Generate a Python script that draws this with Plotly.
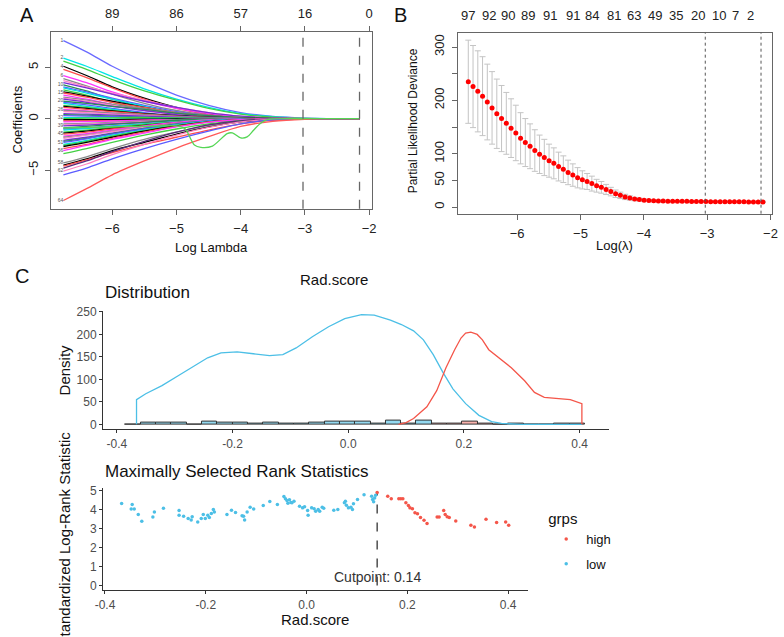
import plotly.graph_objects as go

FONT = "Liberation Sans, Arial, sans-serif"

# ---------------- Panel A : LASSO coefficient paths ----------------
coef_lambda = [-6.76, -6.4, -6.0, -5.5, -5.0, -4.5, -4.0, -3.5, -3.0, -2.5, -2.15]
coef_paths = [
    [7.6, 6.5, 5.1, 3.6, 2.3, 1.3, 0.6, 0.22, 0.06, 0, 0],
    [5.9, 5.1, 4.1, 2.9, 1.9, 1.1, 0.5, 0.2, 0.05, 0, 0],
    [5.6, 4.8, 3.8, 2.7, 1.8, 1.0, 0.45, 0.15, 0.04, 0, 0],
    [5.1, 4.2, 3.1, 2.0, 1.1, 0.45, 0.12, 0.02, 0, 0, 0],
    [4.8, 4.0, 3.0, 1.9, 1.0, 0.4, 0.1, 0, 0, 0, 0],
    [4.2, 3.5, 2.6, 1.7, 1.0, 0.5, 0.2, 0.05, 0, 0, 0],
    [3.9, 3.2, 2.4, 1.5, 0.8, 0.35, 0.1, 0, 0, 0, 0],
    [3.7, 3.1, 2.5, 1.8, 1.1, 0.6, 0.25, 0.08, 0.02, 0, 0],
    [3.5, 3.0, 2.4, 1.7, 1.1, 0.6, 0.25, 0.08, 0, 0, 0],
    [3.3, 2.7, 1.9, 1.1, 0.5, 0.15, 0, 0, 0, 0, 0],
    [3.1, 2.6, 2.0, 1.3, 0.7, 0.3, 0.08, 0, 0, 0, 0],
    [3.0, 2.5, 1.9, 1.2, 0.6, 0.2, 0.05, 0, 0, 0, 0],
    [2.8, 2.3, 1.6, 0.9, 0.4, 0.1, 0, 0, 0, 0, 0],
    [2.6, 2.2, 1.7, 1.1, 0.55, 0.2, 0.04, 0, 0, 0, 0],
    [2.5, 2.1, 1.6, 1.1, 0.6, 0.3, 0.1, 0.02, 0, 0, 0],
    [2.3, 1.9, 1.4, 0.9, 0.45, 0.15, 0.03, 0, 0, 0, 0],
    [2.1, 1.8, 1.4, 1.0, 0.6, 0.3, 0.12, 0.03, 0, 0, 0],
    [2.0, 1.7, 1.3, 0.8, 0.4, 0.12, 0, 0, 0, 0, 0],
    [1.9, 1.6, 1.2, 0.8, 0.4, 0.15, 0.03, 0, 0, 0, 0],
    [1.7, 1.5, 1.2, 0.9, 0.55, 0.3, 0.12, 0.04, 0, 0, 0],
    [1.6, 1.35, 1.0, 0.6, 0.3, 0.1, 0, 0, 0, 0, 0],
    [1.5, 1.2, 0.9, 0.5, 0.2, 0.05, 0, 0, 0, 0, 0],
    [1.3, 1.1, 0.8, 0.5, 0.25, 0.08, 0, 0, 0, 0, 0],
    [1.2, 1.0, 0.75, 0.5, 0.3, 0.15, 0.05, 0, 0, 0, 0],
    [1.1, 0.9, 0.7, 0.45, 0.25, 0.1, 0.03, 0, 0, 0, 0],
    [0.9, 0.75, 0.55, 0.35, 0.15, 0.04, 0, 0, 0, 0, 0],
    [0.8, 0.7, 0.55, 0.4, 0.25, 0.12, 0.04, 0, 0, 0, 0],
    [0.7, 0.6, 0.45, 0.3, 0.15, 0.05, 0, 0, 0, 0, 0],
    [0.5, 0.45, 0.35, 0.25, 0.15, 0.08, 0.03, 0, 0, 0, 0],
    [0.4, 0.35, 0.25, 0.15, 0.06, 0, 0, 0, 0, 0, 0],
    [0.3, 0.25, 0.2, 0.12, 0.05, 0, 0, 0, 0, 0, 0],
    [0.1, 0.1, 0.08, 0.05, 0.02, 0, 0, 0, 0, 0, 0],
    [0.0, 0.05, 0.08, 0.1, 0.08, 0.05, 0.02, 0, 0, 0, 0],
    [-0.1, -0.1, -0.08, -0.05, -0.02, 0, 0, 0, 0, 0, 0],
    [-0.2, -0.2, -0.18, -0.14, -0.1, -0.06, -0.02, 0, 0, 0, 0],
    [-0.3, -0.28, -0.22, -0.15, -0.08, -0.03, 0, 0, 0, 0, 0],
    [-0.5, -0.45, -0.35, -0.22, -0.1, -0.03, 0, 0, 0, 0, 0],
    [-0.6, -0.52, -0.42, -0.3, -0.18, -0.08, -0.02, 0, 0, 0, 0],
    [-0.7, -0.62, -0.5, -0.35, -0.2, -0.1, -0.04, -0.01, 0, 0, 0],
    [-0.9, -0.75, -0.55, -0.35, -0.15, -0.04, 0, 0, 0, 0, 0],
    [-1.0, -0.88, -0.7, -0.5, -0.3, -0.14, -0.05, 0, 0, 0, 0],
    [-1.1, -0.95, -0.75, -0.5, -0.3, -0.12, -0.03, 0, 0, 0, 0],
    [-1.3, -1.1, -0.85, -0.55, -0.3, -0.12, -0.03, 0, 0, 0, 0],
    [-1.4, -1.2, -0.95, -0.65, -0.38, -0.18, -0.06, -0.01, 0, 0, 0],
    [-1.5, -1.3, -1.0, -0.7, -0.4, -0.18, -0.05, 0, 0, 0, 0],
    [-1.7, -1.45, -1.1, -0.7, -0.35, -0.12, 0, 0, 0, 0, 0],
    [-1.8, -1.55, -1.2, -0.8, -0.45, -0.2, -0.06, 0, 0, 0, 0],
    [-1.9, -1.6, -1.25, -0.85, -0.5, -0.22, -0.07, 0, 0, 0, 0],
    [-2.1, -1.8, -1.4, -0.95, -0.55, -0.25, -0.08, -0.02, 0, 0, 0],
    [-2.2, -1.9, -1.45, -0.95, -0.5, -0.2, -0.05, 0, 0, 0, 0],
    [-2.3, -1.95, -1.5, -1.0, -0.55, -0.22, -0.05, 0, 0, 0, 0],
    [-2.5, -2.1, -1.6, -1.1, -0.6, -0.25, -0.07, 0, 0, 0, 0],
    [-2.6, -2.2, -1.7, -1.15, -0.65, -0.3, -0.1, -0.02, 0, 0, 0],
    [-2.7, -2.3, -1.8, -1.2, -0.7, -0.3, -0.1, -0.02, 0, 0, 0],
    [-2.9, -2.5, -1.9, -1.3, -0.75, -0.3, -0.08, 0, 0, 0, 0],
    [-3.1, -2.6, -2.0, -1.4, -0.8, -0.35, -0.1, 0, 0, 0, 0],
    [-3.4, -2.9, -2.3, -1.6, -1.0, -0.5, -0.18, -0.04, 0, 0, 0],
    [-4.3, -3.7, -2.9, -2.0, -1.3, -0.65, -0.25, -0.06, 0, 0, 0],
    [-4.5, -3.9, -3.1, -2.3, -1.5, -0.8, -0.3, -0.08, 0, 0, 0],
    [-4.6, -4.0, -3.3, -2.5, -1.8, -1.1, -0.5, -0.15, -0.03, 0, 0],
    [-4.8, -4.1, -3.2, -2.2, -1.3, -0.6, -0.2, -0.03, 0, 0, 0],
    [-5.1, -4.4, -3.5, -2.5, -1.6, -0.85, -0.3, -0.06, 0, 0, 0],
    [-5.45, -4.8, -3.9, -2.9, -2.0, -1.2, -0.5, -0.12, -0.02, 0, 0],
    [-7.95, -6.8, -5.45, -4.1, -2.85, -1.75, -0.75, -0.25, -0.05, 0, 0],
]
wiggle_lambda = [-6.76, -6.0, -5.5, -5.0, -4.87, -4.72, -4.62, -4.44, -4.21, -4.13,
                 -4.0, -3.9, -3.8, -3.7, -3.6, -3.0, -2.15]
wiggle_coef = [-0.9, -0.8, -0.75, -0.7, -0.96, -2.56, -2.79, -2.66, -1.44, -1.38,
               -1.86, -1.76, -1.12, -0.48, -0.1, 0, 0]
coef_ticks = [-6, -5, -4, -3, -2]
coef_top_df = ["89", "86", "57", "16", "0"]
coef_yticks = [-5, 0, 5]

# ---------------- Panel B : cross-validation ----------------
cv_lambda = [-6.77, -6.695, -6.62, -6.545, -6.47, -6.395, -6.32, -6.245, -6.17, -6.095,
             -6.02, -5.945, -5.87, -5.795, -5.72, -5.645, -5.57, -5.495, -5.42, -5.345,
             -5.27, -5.195, -5.12, -5.045, -4.97, -4.895, -4.82, -4.745, -4.67, -4.595,
             -4.52, -4.445, -4.37, -4.295, -4.22, -4.145, -4.07, -3.995, -3.92, -3.845,
             -3.77, -3.695, -3.62, -3.545, -3.47, -3.395, -3.32, -3.245, -3.17, -3.095,
             -3.02, -2.945, -2.87, -2.795, -2.72, -2.645, -2.57, -2.495, -2.42, -2.345,
             -2.27, -2.195, -2.12]
cv_deviance = [235, 226, 217, 208, 197, 186, 175, 166, 157, 148,
               139, 129, 121, 114, 106, 99, 93, 87, 82, 76,
               71, 65, 60, 55, 51, 48, 44, 40, 37, 33,
               29, 25, 22, 19, 17, 15, 14, 13, 12.5, 12,
               11.5, 11.3, 11.1, 11, 10.9, 10.8, 10.7, 10.6, 10.5, 10.4,
               10.3, 10.2, 10.1, 10, 10, 9.9, 9.9, 9.8, 9.8, 9.7,
               9.7, 9.7, 9.7]
cv_sd = [78, 77, 76, 74, 71, 68, 65, 62, 58, 55,
         52, 48, 45, 42, 39, 36, 34, 31, 29, 27,
         25, 23, 21, 19, 17, 15, 14, 12, 11, 9.5,
         8, 7, 6, 5, 4, 3.2, 2.6, 2.2, 2, 1.8,
         1.6, 1.5, 1.5, 1.4, 1.4, 1.3, 1.3, 1.3, 1.2, 1.2,
         1.2, 1.2, 1.1, 1.1, 1.1, 1.1, 1.1, 1.1, 1.1, 1.1,
         1.1, 1.1, 1.1]
cv_top_pos = [-6.78, -6.45, -6.14, -5.82, -5.48, -5.12, -4.81, -4.47, -4.15, -3.83,
              -3.49, -3.14, -2.82, -2.56, -2.31]
cv_top_df = ["97", "92", "90", "89", "91", "91", "84", "81", "63", "49",
             "35", "20", "10", "7", "2"]
cv_ticks = [-6, -5, -4, -3, -2]
cv_yticks = [0, 50, 100, 150, 200, 250, 300]
cv_yticktext = ["0", "50", "100", "", "200", "", "300"]
lambda_marks = [-3.03, -2.15]

# ---------------- Panel C : cutpoint ----------------
hist_left = -0.3855
hist_width = 0.0265
hist_height = [0.5, 3, 3, 3, 0, 7, 4.5, 4.5, 2, 4.5,
               2, 2, 4.5, 6.5, 6.5, 6.5, 2, 8, 2, 8,
               2, 2, 6.5, 2, 0, 2, 0, 0, 2, 2]
low_dens_x = [-0.366, -0.366, -0.350, -0.322, -0.294, -0.266, -0.243, -0.220, -0.192, -0.164,
              -0.136, -0.113, -0.090, -0.062, -0.034, -0.006, 0.023, 0.045, 0.073, 0.092,
              0.113, 0.130, 0.147, 0.164, 0.181, 0.203, 0.226, 0.248, 0.265, 0.300, 0.404]
low_dens_y = [0, 55, 68, 86, 108, 130, 148, 159, 161, 157,
              153, 155, 170, 195, 217, 235, 244, 243, 232, 222,
              208, 188, 155, 115, 79, 46, 20, 6, 2, 0, 0]
high_dens_x = [0.087, 0.100, 0.113, 0.136, 0.153, 0.169, 0.184, 0.195, 0.203, 0.212,
               0.223, 0.232, 0.243, 0.260, 0.282, 0.305, 0.322, 0.339, 0.362, 0.384,
               0.404, 0.404]
high_dens_y = [0, 4, 13, 39, 75, 126, 166, 192, 203, 205,
               200, 188, 166, 148, 126, 97, 71, 60, 57, 55,
               46, 0]
low_x = [-0.367, -0.346, -0.348, -0.342, -0.334, -0.327, -0.305, -0.302, -0.284, -0.253,
         -0.253, -0.244, -0.235, -0.229, -0.227, -0.216, -0.209, -0.205, -0.201, -0.196,
         -0.193, -0.189, -0.185, -0.183, -0.158, -0.149, -0.141, -0.128, -0.125, -0.123,
         -0.118, -0.112, -0.105, -0.086, -0.073, -0.058, -0.045, -0.042, -0.039, -0.034,
         -0.037, -0.031, -0.029, -0.025, -0.014, -0.008, -0.004, 0.002, 0.003, 0.010,
         0.015, 0.018, 0.023, 0.026, 0.031, 0.034, 0.054, 0.062, 0.075, 0.077,
         0.079, 0.083, 0.088, 0.091, 0.093, 0.101, 0.114, 0.129, 0.131, 0.133,
         0.135, 0.137]
low_y = [4.32, 4.27, 4.03, 4.03, 3.75, 3.39, 3.61, 3.87, 4.08, 3.96,
         3.70, 3.65, 3.53, 3.45, 3.63, 3.35, 3.54, 3.75, 3.53, 3.71,
         3.58, 3.80, 4.01, 3.87, 3.75, 3.97, 3.85, 3.68, 3.65, 3.45,
         3.87, 4.13, 4.04, 4.22, 4.43, 4.27, 4.69, 4.58, 4.48, 4.52,
         4.34, 4.38, 4.36, 4.44, 4.18, 4.10, 4.15, 3.96, 3.71, 4.10,
         4.05, 3.92, 4.01, 3.91, 4.13, 4.08, 3.97, 4.01, 4.36, 4.44,
         4.23, 4.10, 4.13, 4.01, 4.31, 4.53, 4.79, 4.70, 4.53, 4.41,
         4.62, 4.76]
high_x = [0.140, 0.161, 0.168, 0.183, 0.187, 0.191, 0.197, 0.202, 0.205, 0.210,
          0.215, 0.220, 0.226, 0.233, 0.239, 0.259, 0.263, 0.272, 0.275, 0.279,
          0.283, 0.296, 0.326, 0.333, 0.356, 0.377, 0.395, 0.401]
high_y = [4.91, 4.70, 4.58, 4.58, 4.58, 4.58, 4.36, 4.22, 4.10, 4.05,
          3.84, 3.79, 3.58, 3.44, 3.27, 3.61, 3.61, 3.96, 3.75, 3.63,
          3.58, 3.40, 3.18, 3.09, 3.49, 3.32, 3.35, 3.18]
cutpoint = 0.14
rad_ticks = [-0.4, -0.2, 0.0, 0.2, 0.4]
rad_ticktext = ["-0.4", "-0.2", "0.0", "0.2", "0.4"]

# colours
palette = ["#5b5bff", "#00e0e0", "#3ccf3c", "#000000", "#ff4d4d", "#ff33ff",
           "#8a8a8a", "#ff85c8", "#7a2bd6", "#2e8b57"]
coef_colors = [palette[i % len(palette)] for i in range(len(coef_paths))]
# the outermost paths, as coloured in the reference
coef_colors[0] = "#6a6aff"
coef_colors[1] = "#00e5e5"
coef_colors[2] = "#44d044"
coef_colors[-8] = "#44d044"
coef_colors[-7] = "#8a8a8a"
coef_colors[-6] = "#000000"
coef_colors[-5] = "#ff4d4d"
coef_colors[-4] = "#5a2a7a"
coef_colors[-3] = "#ff80c0"
coef_colors[-2] = "#5b5bff"
coef_colors[-1] = "#ff5a5a"
LOW = "#4cbfe6"
HIGH = "#f4564a"

fig = go.Figure()

# panel A
for path, col in zip(coef_paths, coef_colors):
    fig.add_trace(go.Scatter(
        x=coef_lambda, y=path, mode="lines", xaxis="x", yaxis="y",
        line=dict(color=col, width=1.3, shape="spline", smoothing=0.8),
        showlegend=False, hoverinfo="skip"))
fig.add_trace(go.Scatter(
    x=wiggle_lambda, y=wiggle_coef, mode="lines", xaxis="x", yaxis="y",
    line=dict(color="#55d655", width=1.3, shape="spline", smoothing=0.8),
    showlegend=False, hoverinfo="skip"))

# tiny variable labels at the start of the paths (only those that do not collide)
lab_y, lab_t, last = [], [], None
for i, p in sorted(enumerate(coef_paths), key=lambda t: -t[1][0]):
    if last is None or last - p[0] >= 0.75:
        lab_y.append(p[0])
        lab_t.append(str(i + 1))
        last = p[0]
fig.add_trace(go.Scatter(
    x=[coef_lambda[0]] * len(lab_y), y=lab_y, mode="text", text=lab_t,
    textposition="middle left", textfont=dict(size=5, color="#555", family=FONT),
    xaxis="x", yaxis="y", showlegend=False, hoverinfo="skip"))
fig.add_trace(go.Scatter(x=[coef_ticks[0]], y=[0], xaxis="x2", yaxis="y", mode="markers",
                         marker=dict(opacity=0), showlegend=False, hoverinfo="skip"))

# panel B
fig.add_trace(go.Scatter(
    x=cv_lambda, y=cv_deviance, mode="markers", xaxis="x3", yaxis="y3",
    marker=dict(color="#ff0000", size=5),
    error_y=dict(type="data", array=cv_sd, color="#c4c4c4", thickness=1, width=3),
    showlegend=False, hoverinfo="skip"))

# panel C distribution
hist_x = [hist_left + hist_width * (i + 0.5) for i in range(len(hist_height))]
hist_col = ["rgba(76,191,230,0.6)" if c < cutpoint else "rgba(244,86,74,0.45)" for c in hist_x]
fig.add_trace(go.Bar(
    x=hist_x, y=hist_height, width=hist_width, xaxis="x5", yaxis="y5",
    marker=dict(color=hist_col, line=dict(color="#333", width=1)),
    showlegend=False, hoverinfo="skip"))
fig.add_trace(go.Scatter(x=low_dens_x, y=low_dens_y, mode="lines", xaxis="x5", yaxis="y5",
                         line=dict(color=LOW, width=1.3), showlegend=False, hoverinfo="skip"))
fig.add_trace(go.Scatter(x=high_dens_x, y=high_dens_y, mode="lines", xaxis="x5", yaxis="y5",
                         line=dict(color=HIGH, width=1.3), showlegend=False, hoverinfo="skip"))

# panel C rank statistics
fig.add_trace(go.Scatter(x=[cutpoint, cutpoint], y=[0, max(high_y + low_y)], mode="lines",
                         xaxis="x6", yaxis="y6", line=dict(color="#333", width=1.3, dash="dash"),
                         showlegend=False, hoverinfo="skip"))
fig.add_trace(go.Scatter(x=high_x, y=high_y, mode="markers", name="high", xaxis="x6", yaxis="y6",
                         marker=dict(color=HIGH, size=3.5), legendgroup="high", legendrank=1))
fig.add_trace(go.Scatter(x=low_x, y=low_y, mode="markers", name="low", xaxis="x6", yaxis="y6",
                         marker=dict(color=LOW, size=3.5), legendgroup="low", legendrank=2))

shapes = []
for v in lambda_marks:
    shapes.append(dict(type="line", xref="x", yref="y domain", x0=v, x1=v, y0=0, y1=1,
                       line=dict(color="#666", width=1.3, dash="dash")))
    shapes.append(dict(type="line", xref="x3", yref="y3 domain", x0=v, x1=v, y0=0, y1=1,
                       line=dict(color="#555", width=1, dash="dot")))

W, H = 784, 637


def px(x):
    return x / W


def py(y):
    return 1 - y / H


base_axis = dict(showgrid=False, zeroline=False, showline=True, linewidth=1, ticks="outside",
                 tickfont=dict(family=FONT, size=13, color="#222"))
box_axis = dict(base_axis, linecolor="#666", mirror=True, ticklen=5, tickcolor="#666")
gg_axis = dict(base_axis, linecolor="#333", ticklen=3, tickcolor="#333",
               tickfont=dict(family=FONT, size=12, color="#4d4d4d"))

ann = []


def text(t, x, y, size, angle=0, anchor="center", color="#111"):
    ann.append(dict(text=t, x=px(x), y=py(y), xref="paper", yref="paper", showarrow=False,
                    textangle=angle, xanchor=anchor, yanchor="middle",
                    font=dict(family=FONT, size=size, color=color)))


text("A", 19, 10, 20)
text("B", 400, 10, 20)
text("C", 14, 274, 20)
text("Coefficients", 10, 116, 13, -90)
text("Log Lambda", 207.5, 245, 13)
text("Partial Likelihood Deviance", 412, 117, 12, -90)
text("Log(λ)", 618, 243, 13)
text("Rad.score", 331.7, 278, 15)
text("Distribution", 96.7, 291, 17, anchor="left")
text("Density", 57.5, 369, 15, -90)
text("Maximally Selected Rank Statistics", 96.7, 472, 17, anchor="left")
text("Standardized Log-Rank Statistic", 57.5, 540, 15, -90)
text("Rad.score", 313, 621.7, 15)
for pos, df in zip(cv_top_pos, cv_top_df):
    ann.append(dict(text=df, x=pos, y=py(11), xref="x3", yref="paper", showarrow=False,
                    xanchor="center", yanchor="middle",
                    font=dict(family=FONT, size=13, color="#222")))
ann.append(dict(text=f"Cutpoint: {cutpoint}", x=cutpoint, y=0.46, xref="x6", yref="y6",
                showarrow=False, font=dict(family=FONT, size=14, color="#333")))

fig.update_layout(
    width=W, height=H, margin=dict(l=0, r=0, t=0, b=0),
    paper_bgcolor="white", plot_bgcolor="white",
    font=dict(family=FONT),
    shapes=shapes, annotations=ann,
    xaxis=dict(box_axis, domain=[px(44), px(371)], range=[-6.95, -1.95], anchor="y",
               tickvals=coef_ticks, ticklabelstandoff=3),
    yaxis=dict(box_axis, domain=[py(206), py(27)], range=[-8.75, 8.46], anchor="x",
               tickvals=coef_yticks, tickangle=-90, ticklabelstandoff=2),
    xaxis2=dict(base_axis, showline=False, overlaying="x", side="top", anchor="y",
                range=[-6.95, -1.95], tickvals=coef_ticks, ticktext=coef_top_df,
                ticklen=5, tickcolor="#666", ticklabelstandoff=3),
    xaxis3=dict(box_axis, domain=[px(457.7), px(778)], range=[-6.94, -1.975], anchor="y3",
                tickvals=cv_ticks, ticklabelstandoff=3),
    yaxis3=dict(box_axis, domain=[py(211), py(28)], range=[-12.4, 327], anchor="x3",
                tickvals=cv_yticks, ticktext=cv_yticktext, tickangle=-90, ticklabelstandoff=2),
    xaxis5=dict(gg_axis, domain=[px(96.7), px(612)], range=[-0.424, 0.451], anchor="y5",
                tickvals=rad_ticks, ticktext=rad_ticktext),
    yaxis5=dict(gg_axis, domain=[py(429), py(309)], range=[-11, 253], anchor="x5",
                tickvals=[0, 50, 100, 150, 200, 250]),
    xaxis6=dict(gg_axis, domain=[px(96.7), px(529.3)], range=[-0.404, 0.439], anchor="y6",
                tickvals=rad_ticks, ticktext=rad_ticktext),
    yaxis6=dict(gg_axis, domain=[py(592), py(488)], range=[-0.26, 5.16], anchor="x6",
                tickvals=[0, 1, 2, 3, 4, 5]),
    legend=dict(x=px(548), y=py(505), xanchor="left", yanchor="top",
                title=dict(text="grps", font=dict(family=FONT, size=15, color="#111")),
                font=dict(family=FONT, size=13, color="#111"),
                traceorder="grouped", tracegroupgap=5, bgcolor="rgba(0,0,0,0)"),
    bargap=0,
)

# the page's default body margin would shift the 784x637 figure out of the window
fig.write_html("out.html", config=dict(displayModeBar=False),
               post_script="document.body.style.margin='0px';")
